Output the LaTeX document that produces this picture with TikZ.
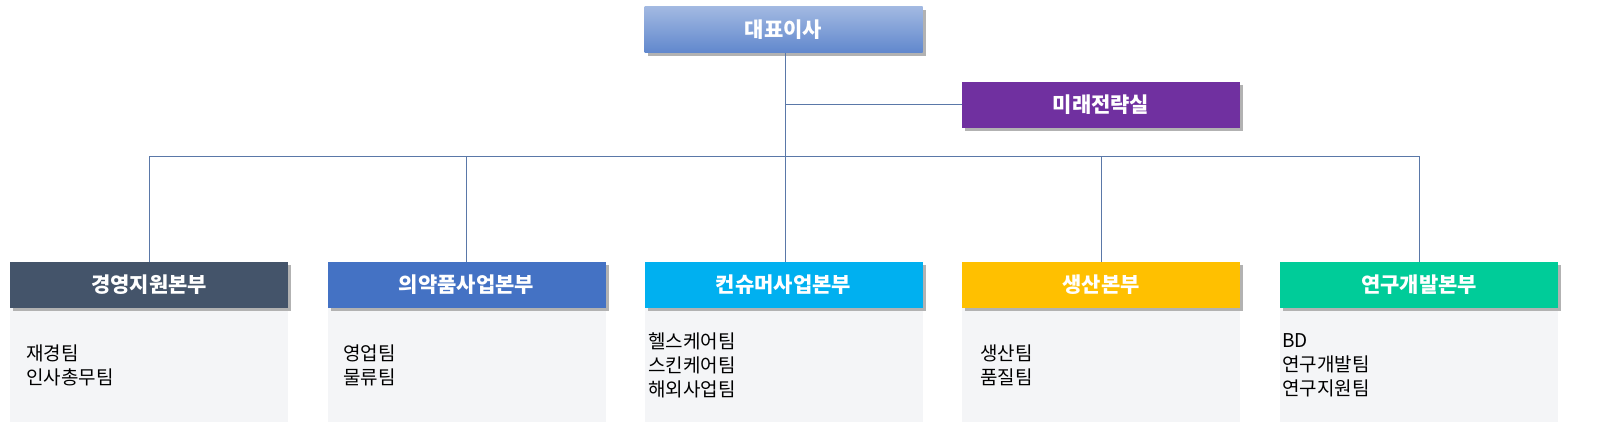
\documentclass[tikz,border=0pt]{standalone}
\usepackage{fontspec}
\setmainfont{Noto Sans CJK KR}
\definecolor{lc}{HTML}{5A78A8}
\definecolor{c1}{HTML}{44546A}
\definecolor{c2}{HTML}{4472C4}
\definecolor{c3}{HTML}{00B0F0}
\definecolor{c4}{HTML}{FFC000}
\definecolor{c5}{HTML}{00CC99}
\definecolor{pur}{HTML}{7030A0}
\definecolor{gbox}{HTML}{F4F5F7}
\begin{document}
\begin{tikzpicture}[x=0.5pt,y=-0.5pt,
  head/.style={minimum width=139pt,minimum height=23pt,inner sep=0pt,text=white,font=\bfseries\fontsize{10.5}{12}\selectfont},
  shad/.style={fill=black!30,minimum width=139pt,minimum height=23pt,inner sep=0pt},
  body/.style={fill=gbox,minimum width=139pt,minimum height=57pt,inner sep=0pt},
  lst/.style={align=left,anchor=west,font=\fontsize{9.5}{12}\selectfont,inner sep=0pt},
  ln/.style={draw=lc,line width=0.5pt}]
\path[use as bounding box] (0,0) rectangle (1602,432);
\begin{scope}
\clip (0,0) rectangle (1602,432);
\node[shad] (ceos) at (786.5,33) {};
\node[head,top color=c2!50!white,bottom color=c2!85!white] (ceo) at (783.5,30) {대표이사};
\node[shad] (fss) at (1104,108) {};
\node[head,fill=pur] (fs) at (1101,105) {미래전략실};
\foreach \n/\x/\c/\t in {a/149/c1/경영지원본부, b/466.5/c2/의약품사업본부, c/783.5/c3/컨슈머사업본부, d/1101/c4/생산본부, e/1419/c5/연구개발본부}{
  \node[body] (\n b) at (\x,365) {};
  \node[shad] (\n s) at (\x+3,288) {};
  \node[head,fill=\c] (\n) at (\x,285) {\t};
}
\end{scope}
\coordinate (j1) at (785,105);
\coordinate (j2) at (785,157);
\draw[ln] (ceo.south -| j1) -- (c.north -| j1);
\draw[ln] (j1) -- (fs.west);
\draw[ln] (a.north) -- (a.north |- j2) -- (e.north |- j2) -- (e.north);
\draw[ln] (b.north) -- (b.north |- j2);
\draw[ln] (d.north) -- (d.north |- j2);
\node[lst] (la) at (26,365) {재경팀\\인사총무팀};
\node[lst] (lb) at (343,365) {영업팀\\물류팀};
\node[lst] (lc) at (648,365) {헬스케어팀\\스킨케어팀\\해외사업팀};
\node[lst] (ld) at (980,365) {생산팀\\품질팀};
\node[lst] (le) at (1282,365) {BD\\연구개발팀\\연구지원팀};
\end{tikzpicture}
\end{document}
